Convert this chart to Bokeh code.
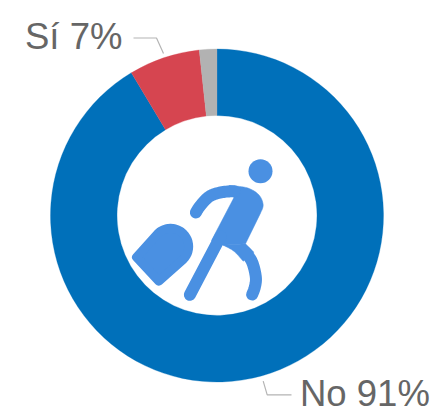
import numpy as np
from bokeh.plotting import figure
from bokeh.models import Range1d
from bokeh.core.properties import value
from bokeh.embed import file_html
from bokeh.resources import INLINE

categories = ["No", "Sí", "Otro"]
values = [91.4, 6.9, 1.7]
colors = ["#0070BA", "#D64550", "#B2B2B2"]
label_texts = ["Sí 7%", "No 91%"]

W, H = 432, 410
def X(px): return np.asarray(px, float)
def Y(py): return H - np.asarray(py, float)

p = figure(width=W, height=H, output_backend="svg", toolbar_location=None,
           x_range=Range1d(0, W), y_range=Range1d(0, H),
           min_border=0, outline_line_color=None)
p.axis.visible = False
p.grid.visible = False
p.background_fill_color = "white"

# donut: clockwise from 12 o'clock
cx, cy, r_out, r_in = 216.5, 215, 166.5, 100
fr = np.cumsum([0] + values) / sum(values)
ang = np.pi / 2 - 2 * np.pi * fr
p.annular_wedge(x=[cx] * 3, y=[float(Y(cy))] * 3, inner_radius=r_in, outer_radius=r_out,
                start_angle=list(ang[1:]), end_angle=list(ang[:-1]), direction="anticlock",
                fill_color=colors, line_color=colors, line_width=0.3)

# leader lines
p.line(X([133, 156, 163]), Y([37.5, 37.5, 53]), line_color="#b4b4b4", line_width=1.2)
p.line(X([262.7, 266.7, 291]), Y([380.7, 394.3, 394.3]), line_color="#b4b4b4", line_width=1.2)

# labels
p.text(x=X([24.5, 299.5]), y=Y([36, 392.5]), text=label_texts, text_font=value("Liberation Sans"),
       text_font_size="36.5px", text_color="#666666", text_align="left", text_baseline="alphabetic")

# icon (outline, in 3x crop coordinates)
def curve(pts, n=10):
    pts = np.asarray(pts, float)
    pts = np.vstack([pts[0], pts, pts[-1]])
    out = []
    for i in range(1, len(pts) - 2):
        p0, p1, p2, p3 = pts[i - 1], pts[i], pts[i + 1], pts[i + 2]
        for t in np.linspace(0, 1, n, endpoint=False):
            out.append(0.5 * (2 * p1 + (p2 - p0) * t + (2 * p0 - 5 * p1 + 4 * p2 - p3) * t**2
                              + (3 * p1 - p0 - 3 * p2 + p3) * t**3))
    out.append(pts[-1])
    return np.array(out)

def ix(a): return 110 + np.asarray(a)[:, 0] / 3
def iy(a): return Y(140 + np.asarray(a)[:, 1] / 3)

icon_color = "#4A90E2"
torso = curve([(355, 135), (410, 142), (445, 163), (458, 193), (450, 218)])
torso = np.vstack([[(370, 172)], torso, [(405, 310), (338, 314), (303, 300)]])
hip = curve([(338, 314), (370, 332), (398, 362)])
hip = np.vstack([hip, [(430, 335), (405, 310)]])
arc_t = np.radians(np.linspace(45, -135, 25))
case_core = np.vstack([np.column_stack([180 + 54.5 * np.cos(arc_t), 318 + 54.5 * np.sin(arc_t)]),
                       [(78, 350), (145, 422)]])
for shape in (torso, hip):
    p.patch(ix(shape), iy(shape), fill_color=icon_color, line_color=icon_color, line_width=0.5)
p.patch(ix(case_core), iy(case_core), fill_color=icon_color, line_color=icon_color, line_width=9,
        line_join="round")

arm = curve([(256, 216), (270, 195), (298, 167), (335, 155), (372, 152)])
leg_front = np.array([(238, 463), (330, 288)], float)
leg_rear = curve([(405, 335), (425, 365), (436, 410), (433, 440), (425, 462)])
for stroke in (arm, leg_front, leg_rear):
    p.line(ix(stroke), iy(stroke), line_color=icon_color, line_width=12, line_cap="round", line_join="round")
p.scatter(x=[260.0], y=[float(Y(170.7))], size=24, marker="circle", fill_color=icon_color, line_color=None)

open("out.html", "w").write(file_html(p, INLINE))
